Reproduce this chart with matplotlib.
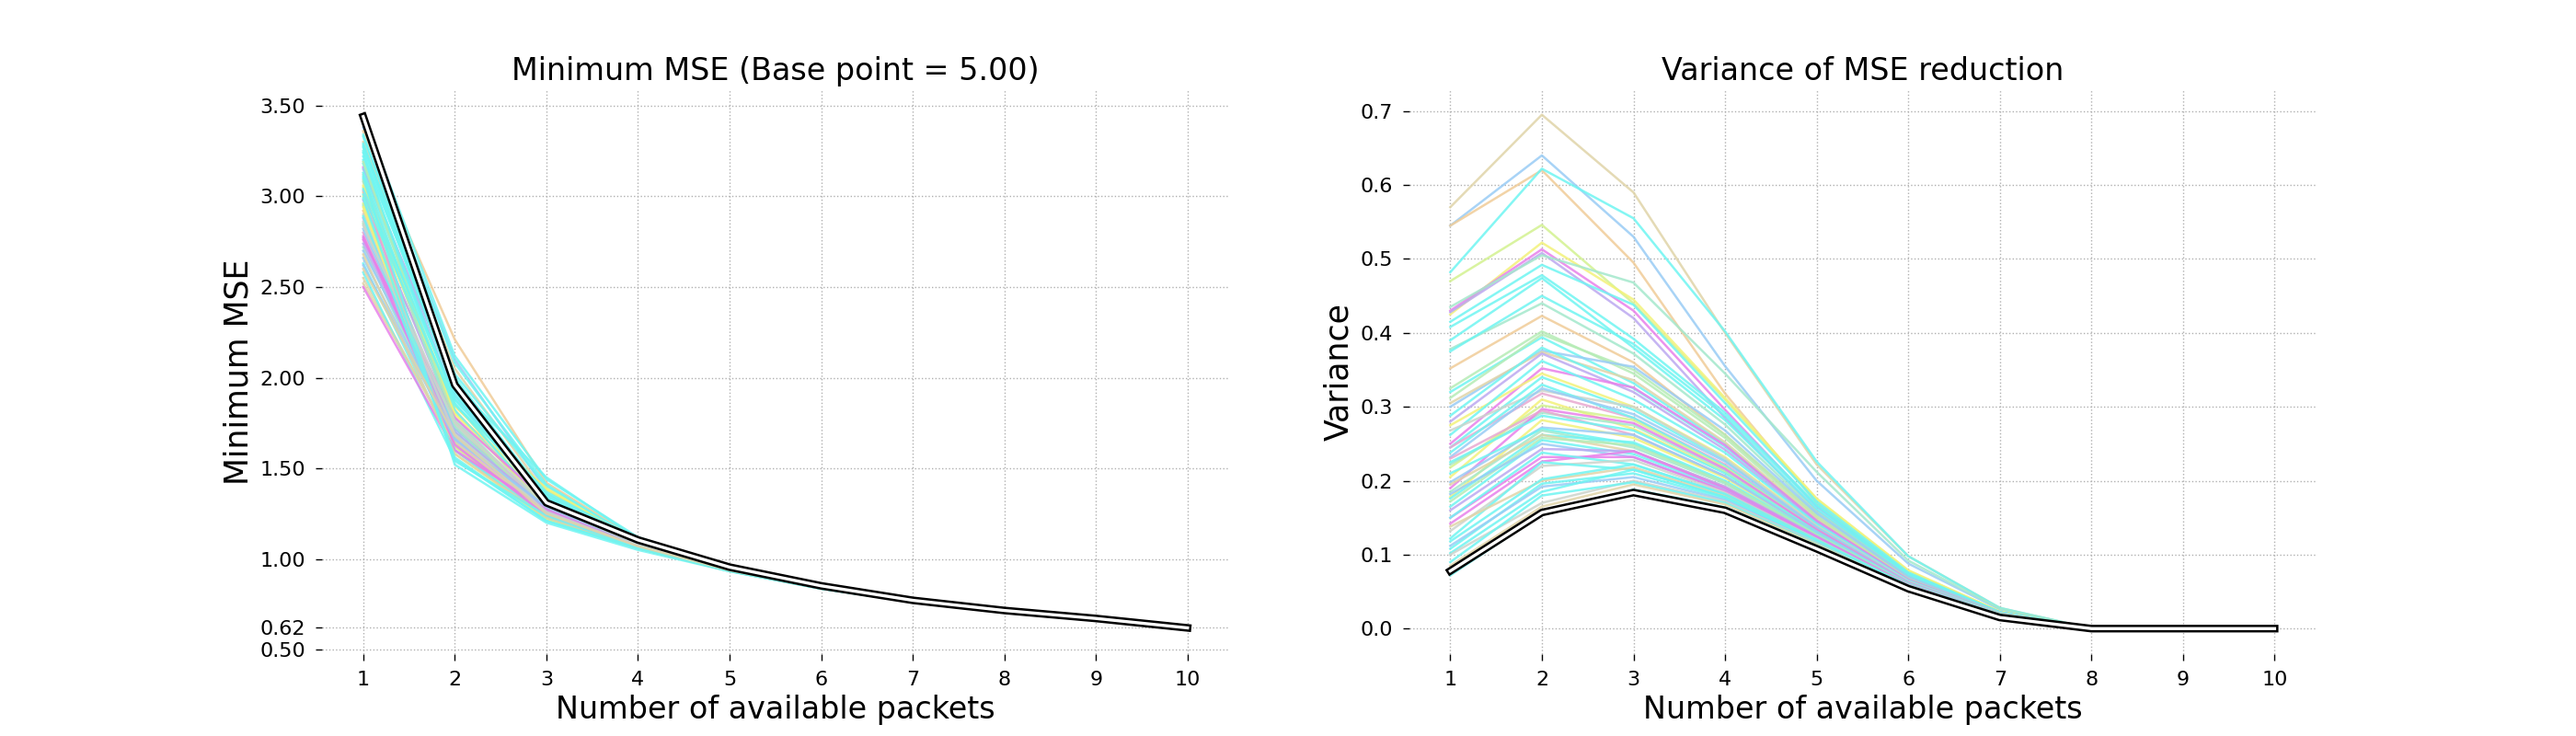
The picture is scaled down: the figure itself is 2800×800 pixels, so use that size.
import matplotlib
matplotlib.use("Agg")
import matplotlib.pyplot as plt
import matplotlib.patheffects as pe

packets = [1, 2, 3, 4, 5, 6, 7, 8, 9, 10]

palette = {
    "cyan": "#6ff5f2", "lblue": "#99ccf5", "magenta": "#e880ea", "violet": "#bca8f0",
    "yellow": "#f3f27a", "lime": "#d3f290", "mint": "#a4e8cc", "lgreen": "#b5ecb5",
    "tan": "#e0d4a8", "peach": "#f0cc98", "pink": "#e8a8d0", "gray": "#ccd4cc",
}

run_colors = [
    "tan", "lblue", "peach", "cyan", "lime", "yellow", "magenta", "violet", "mint", "cyan",
    "cyan", "cyan", "mint", "cyan", "peach", "lgreen", "cyan", "lgreen", "lblue", "tan",
    "cyan", "violet", "magenta", "yellow", "cyan", "cyan", "pink", "gray", "cyan", "lblue",
    "yellow", "lime", "mint", "magenta", "pink", "cyan", "yellow", "lblue", "cyan", "mint",
    "cyan", "tan", "lgreen", "cyan", "lblue", "violet", "magenta", "magenta", "cyan", "gray",
    "cyan", "tan", "cyan", "cyan", "lblue", "cyan", "gray", "cyan", "tan", "cyan",
]

# minimum MSE per run (one row per configuration)
mse_runs = [
    [3.30, 2.05, 1.36, 1.09, 0.948, 0.845, 0.768, 0.713, 0.668, 0.618],
    [3.38, 2.10, 1.38, 1.10, 0.950, 0.846, 0.769, 0.714, 0.669, 0.619],
    [3.36, 2.21, 1.42, 1.11, 0.952, 0.847, 0.769, 0.714, 0.669, 0.619],
    [3.45, 2.12, 1.44, 1.12, 0.955, 0.848, 0.770, 0.715, 0.670, 0.620],
    [3.05, 1.85, 1.30, 1.08, 0.945, 0.843, 0.767, 0.713, 0.668, 0.618],
    [3.02, 1.80, 1.38, 1.10, 0.950, 0.845, 0.768, 0.713, 0.668, 0.618],
    [3.16, 1.95, 1.33, 1.09, 0.947, 0.844, 0.767, 0.713, 0.668, 0.618],
    [2.88, 1.72, 1.28, 1.08, 0.944, 0.843, 0.767, 0.712, 0.668, 0.618],
    [3.12, 1.78, 1.26, 1.07, 0.940, 0.840, 0.765, 0.711, 0.667, 0.617],
    [3.33, 2.02, 1.40, 1.10, 0.950, 0.846, 0.768, 0.713, 0.668, 0.618],
    [3.28, 2.00, 1.34, 1.09, 0.948, 0.845, 0.768, 0.713, 0.668, 0.618],
    [3.25, 1.92, 1.30, 1.08, 0.945, 0.844, 0.767, 0.713, 0.668, 0.618],
    [2.95, 1.70, 1.25, 1.07, 0.940, 0.840, 0.765, 0.711, 0.667, 0.617],
    [3.20, 1.88, 1.32, 1.09, 0.946, 0.844, 0.767, 0.713, 0.668, 0.618],
    [2.92, 1.82, 1.29, 1.08, 0.944, 0.843, 0.767, 0.712, 0.668, 0.618],
    [3.08, 1.75, 1.24, 1.07, 0.938, 0.840, 0.765, 0.711, 0.667, 0.617],
    [3.22, 1.98, 1.35, 1.09, 0.948, 0.845, 0.768, 0.713, 0.668, 0.618],
    [2.85, 1.65, 1.23, 1.06, 0.936, 0.838, 0.764, 0.711, 0.667, 0.617],
    [3.15, 1.90, 1.31, 1.08, 0.946, 0.844, 0.767, 0.713, 0.668, 0.618],
    [2.55, 1.62, 1.24, 1.06, 0.936, 0.838, 0.764, 0.711, 0.667, 0.617],
    [3.27, 1.95, 1.33, 1.09, 0.947, 0.844, 0.767, 0.713, 0.668, 0.618],
    [2.98, 1.76, 1.27, 1.07, 0.941, 0.841, 0.766, 0.712, 0.667, 0.617],
    [2.77, 1.72, 1.30, 1.08, 0.944, 0.843, 0.767, 0.712, 0.668, 0.618],
    [3.00, 1.84, 1.39, 1.10, 0.950, 0.845, 0.768, 0.713, 0.668, 0.618],
    [3.18, 1.86, 1.28, 1.07, 0.942, 0.842, 0.766, 0.712, 0.667, 0.617],
    [3.10, 1.82, 1.27, 1.07, 0.941, 0.841, 0.766, 0.712, 0.667, 0.617],
    [2.80, 1.66, 1.25, 1.07, 0.938, 0.840, 0.765, 0.711, 0.667, 0.617],
    [2.90, 1.74, 1.28, 1.08, 0.943, 0.842, 0.766, 0.712, 0.667, 0.617],
    [3.24, 1.70, 1.26, 1.07, 0.940, 0.840, 0.765, 0.711, 0.667, 0.617],
    [2.82, 1.68, 1.26, 1.07, 0.939, 0.840, 0.765, 0.711, 0.667, 0.617],
    [3.06, 1.80, 1.29, 1.08, 0.944, 0.843, 0.767, 0.712, 0.668, 0.618],
    [2.96, 1.62, 1.22, 1.06, 0.935, 0.838, 0.764, 0.711, 0.667, 0.617],
    [2.72, 1.64, 1.23, 1.06, 0.936, 0.838, 0.764, 0.711, 0.667, 0.617],
    [2.76, 1.78, 1.32, 1.09, 0.946, 0.844, 0.767, 0.713, 0.668, 0.618],
    [3.03, 1.60, 1.22, 1.06, 0.934, 0.837, 0.764, 0.710, 0.666, 0.616],
    [3.13, 1.88, 1.34, 1.09, 0.947, 0.844, 0.767, 0.713, 0.668, 0.618],
    [2.94, 1.58, 1.22, 1.06, 0.934, 0.837, 0.764, 0.710, 0.666, 0.616],
    [2.70, 1.72, 1.27, 1.07, 0.941, 0.841, 0.766, 0.712, 0.667, 0.617],
    [2.63, 1.60, 1.23, 1.06, 0.935, 0.838, 0.764, 0.711, 0.667, 0.617],
    [3.09, 1.73, 1.24, 1.06, 0.936, 0.838, 0.764, 0.711, 0.667, 0.617],
    [2.58, 1.55, 1.21, 1.06, 0.933, 0.837, 0.763, 0.710, 0.666, 0.616],
    [2.52, 1.64, 1.25, 1.07, 0.938, 0.840, 0.765, 0.711, 0.667, 0.617],
    [3.19, 1.76, 1.25, 1.07, 0.938, 0.840, 0.765, 0.711, 0.667, 0.617],
    [3.01, 1.85, 1.36, 1.10, 0.949, 0.845, 0.768, 0.713, 0.668, 0.618],
    [2.66, 1.67, 1.26, 1.07, 0.939, 0.840, 0.765, 0.711, 0.667, 0.617],
    [2.74, 1.70, 1.28, 1.08, 0.942, 0.842, 0.766, 0.712, 0.667, 0.617],
    [2.50, 1.60, 1.27, 1.07, 0.940, 0.841, 0.765, 0.712, 0.667, 0.617],
    [2.78, 1.63, 1.24, 1.06, 0.937, 0.839, 0.765, 0.711, 0.667, 0.617],
    [3.29, 1.93, 1.32, 1.09, 0.947, 0.844, 0.767, 0.713, 0.668, 0.618],
    [2.86, 1.69, 1.26, 1.07, 0.939, 0.840, 0.765, 0.711, 0.667, 0.617],
    [3.11, 1.52, 1.20, 1.05, 0.932, 0.836, 0.763, 0.710, 0.666, 0.616],
    [2.68, 1.58, 1.23, 1.06, 0.935, 0.838, 0.764, 0.711, 0.667, 0.617],
    [3.34, 1.96, 1.45, 1.11, 0.952, 0.846, 0.768, 0.713, 0.668, 0.618],
    [2.89, 1.56, 1.21, 1.06, 0.933, 0.837, 0.763, 0.710, 0.666, 0.616],
    [2.62, 1.66, 1.29, 1.08, 0.943, 0.842, 0.766, 0.712, 0.667, 0.617],
    [3.04, 1.90, 1.37, 1.10, 0.950, 0.845, 0.768, 0.713, 0.668, 0.618],
    [2.84, 1.75, 1.30, 1.08, 0.944, 0.843, 0.766, 0.712, 0.667, 0.617],
    [2.99, 1.54, 1.24, 1.06, 0.936, 0.838, 0.764, 0.711, 0.667, 0.617],
    [2.60, 1.68, 1.25, 1.07, 0.938, 0.840, 0.765, 0.711, 0.667, 0.617],
    [3.40, 2.08, 1.41, 1.10, 0.951, 0.846, 0.768, 0.713, 0.668, 0.618],
]
mse_best = [3.44, 1.96, 1.31, 1.105, 0.955, 0.852, 0.772, 0.716, 0.672, 0.62]
mse_ticks = [0.50, 0.62, 1.00, 1.50, 2.00, 2.50, 3.00, 3.50]

# variance of MSE reduction per run
var_runs = [
    [.570, .695, .590, .400, .222, .098, .028, 0, 0, 0],
    [.545, .640, .530, .355, .200, .088, .026, 0, 0, 0],
    [.545, .620, .495, .318, .170, .074, .022, 0, 0, 0],
    [.482, .622, .555, .402, .226, .098, .028, 0, 0, 0],
    [.470, .546, .440, .310, .175, .078, .023, 0, 0, 0],
    [.425, .522, .445, .312, .176, .079, .023, 0, 0, 0],
    [.430, .513, .430, .296, .165, .074, .022, 0, 0, 0],
    [.428, .508, .420, .285, .160, .072, .022, 0, 0, 0],
    [.435, .505, .468, .345, .212, .092, .027, 0, 0, 0],
    [.415, .492, .438, .305, .172, .076, .022, 0, 0, 0],
    [.408, .478, .392, .292, .168, .074, .022, 0, 0, 0],
    [.390, .474, .380, .282, .162, .072, .022, 0, 0, 0],
    [.378, .440, .372, .276, .158, .071, .021, 0, 0, 0],
    [.375, .450, .385, .288, .166, .073, .022, 0, 0, 0],
    [.352, .423, .360, .262, .152, .068, .021, 0, 0, 0],
    [.325, .402, .345, .258, .150, .068, .021, 0, 0, 0],
    [.320, .394, .332, .250, .146, .066, .020, 0, 0, 0],
    [.312, .398, .350, .262, .154, .069, .021, 0, 0, 0],
    [.300, .376, .354, .268, .156, .070, .021, 0, 0, 0],
    [.305, .374, .336, .252, .148, .067, .020, 0, 0, 0],
    [.288, .380, .325, .246, .145, .066, .020, 0, 0, 0],
    [.280, .372, .320, .242, .143, .065, .020, 0, 0, 0],
    [.250, .352, .326, .248, .146, .066, .020, 0, 0, 0],
    [.275, .345, .300, .232, .140, .064, .020, 0, 0, 0],
    [.262, .362, .310, .238, .142, .065, .020, 0, 0, 0],
    [.245, .340, .296, .228, .138, .063, .019, 0, 0, 0],
    [.245, .318, .285, .222, .136, .063, .019, 0, 0, 0],
    [.268, .322, .300, .230, .139, .064, .019, 0, 0, 0],
    [.238, .330, .285, .220, .135, .062, .019, 0, 0, 0],
    [.232, .325, .290, .226, .137, .063, .019, 0, 0, 0],
    [.205, .310, .270, .212, .132, .061, .019, 0, 0, 0],
    [.218, .302, .282, .218, .134, .062, .019, 0, 0, 0],
    [.222, .292, .275, .214, .133, .062, .019, 0, 0, 0],
    [.190, .297, .278, .216, .134, .062, .019, 0, 0, 0],
    [.230, .295, .262, .206, .130, .060, .019, 0, 0, 0],
    [.225, .288, .268, .210, .131, .061, .019, 0, 0, 0],
    [.178, .282, .258, .204, .129, .060, .019, 0, 0, 0],
    [.198, .272, .262, .206, .130, .061, .019, 0, 0, 0],
    [.210, .270, .250, .198, .127, .060, .018, 0, 0, 0],
    [.185, .268, .245, .196, .126, .059, .018, 0, 0, 0],
    [.176, .262, .252, .200, .128, .060, .018, 0, 0, 0],
    [.195, .262, .240, .192, .125, .059, .018, 0, 0, 0],
    [.172, .258, .248, .198, .127, .060, .018, 0, 0, 0],
    [.165, .255, .236, .190, .124, .059, .018, 0, 0, 0],
    [.182, .250, .232, .188, .123, .058, .018, 0, 0, 0],
    [.160, .243, .240, .192, .125, .059, .018, 0, 0, 0],
    [.150, .232, .232, .186, .122, .058, .018, 0, 0, 0],
    [.142, .226, .240, .190, .124, .059, .018, 0, 0, 0],
    [.150, .238, .222, .182, .121, .058, .018, 0, 0, 0],
    [.132, .220, .228, .184, .121, .058, .018, 0, 0, 0],
    [.122, .225, .215, .178, .119, .057, .018, 0, 0, 0],
    [.138, .200, .218, .180, .120, .058, .018, 0, 0, 0],
    [.118, .202, .222, .182, .120, .058, .018, 0, 0, 0],
    [.108, .196, .210, .176, .118, .057, .018, 0, 0, 0],
    [.112, .192, .205, .174, .117, .057, .018, 0, 0, 0],
    [.102, .185, .215, .178, .119, .057, .018, 0, 0, 0],
    [.100, .170, .200, .172, .116, .056, .017, 0, 0, 0],
    [.090, .180, .198, .170, .115, .056, .017, 0, 0, 0],
    [.085, .165, .195, .168, .114, .056, .017, 0, 0, 0],
    [.072, .155, .188, .164, .112, .055, .017, 0, 0, 0],
]
var_best = [0.078, 0.157, 0.184, 0.160, 0.108, 0.054, 0.015, 0.0, 0.0, 0.0]


def style_axes(ax):
    for side in ax.spines.values():
        side.set_visible(False)
    ax.grid(True, linestyle=":", color="#b0b0b0", linewidth=1.0)
    ax.set_axisbelow(True)
    ax.tick_params(direction="out", length=5, width=1, labelsize=16, pad=8)
    ax.set_xticks(packets)


def draw_panel(ax, runs, best):
    for vals, cname in zip(runs, run_colors):
        ax.plot(packets, vals, color=palette[cname], alpha=0.85, linewidth=1.8)
    # best configuration: white line with a black outline
    ax.plot(packets, best, color="white", linewidth=2.4,
            path_effects=[pe.Stroke(linewidth=6, foreground="black"), pe.Normal()])


fig = plt.figure(figsize=(28, 8), dpi=100)
ax1 = fig.add_axes([0.125, 0.111, 0.352, 0.768])
ax2 = fig.add_axes([0.547, 0.111, 0.352, 0.768])

draw_panel(ax1, mse_runs, mse_best)
style_axes(ax1)
ax1.set_yticks(mse_ticks)
ax1.set_yticklabels([f"{t:.2f}" for t in mse_ticks])
ax1.set_title("Minimum MSE (Base point = 5.00)", fontsize=24, pad=7)
ax1.set_xlabel("Number of available packets", fontsize=24)
ax1.set_ylabel("Minimum MSE", fontsize=25)

draw_panel(ax2, var_runs, var_best)
style_axes(ax2)
ax2.set_title("Variance of MSE reduction", fontsize=24, pad=7)
ax2.set_xlabel("Number of available packets", fontsize=24)
ax2.set_ylabel("Variance", fontsize=25)

fig.savefig("out.png", dpi=100)
